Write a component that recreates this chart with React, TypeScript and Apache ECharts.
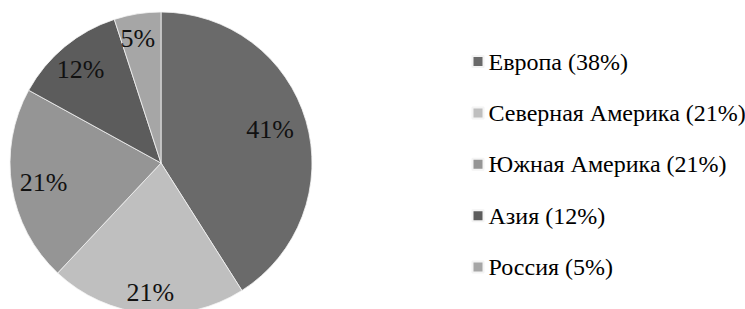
import React, { useEffect, useRef } from "react";
import * as echarts from "echarts";

const categories = ["Европа", "Северная Америка", "Южная Америка", "Азия", "Россия"];
const sliceValues = [41, 21, 21, 12, 5];
const legendPercents = [38, 21, 21, 12, 5];
const sliceColors = ["#6a6a6a", "#bfbfbf", "#959595", "#5c5c5c", "#a6a6a6"];
const labelNudges = [[-9, 1], [1, 7], [4, 0], [-2, 1], [-4, -3]];

export default function App() {
  const ref = useRef<HTMLDivElement>(null);
  useEffect(() => {
    if (!ref.current) return;
    const chart = echarts.init(ref.current, null, { renderer: "svg" });
    const font = "Liberation Serif, Times New Roman, serif";
    const data = categories.map((name, i) => ({
      name,
      value: sliceValues[i],
      itemStyle: { color: sliceColors[i] },
    }));
    chart.setOption({
      animation: false,
      backgroundColor: "#ffffff",
      textStyle: { fontFamily: font },
      legend: {
        orient: "vertical",
        left: 471.5,
        top: 49.5,
        padding: 0,
        itemWidth: 11,
        itemHeight: 11,
        itemGap: 27.4,
        icon: "rect",
        selectedMode: false,
        data: categories,
        formatter: (name: string) => {
          const i = categories.indexOf(name);
          return `${name} (${legendPercents[i]}%)`;
        },
        textStyle: {
          fontFamily: font,
          fontSize: 24,
          lineHeight: 24,
          color: "#000",
        },
      },
      series: [
        {
          type: "pie",
          center: [161, 163],
          radius: [0, 151],
          startAngle: 90,
          clockwise: true,
          silent: true,
          label: { show: false },
          labelLine: { show: false },
          itemStyle: { borderColor: "#f4f4f4", borderWidth: 0.8 },
          data,
        },
        {
          type: "pie",
          center: [161, 163],
          radius: [89, 151],
          startAngle: 90,
          clockwise: true,
          silent: true,
          legendHoverLink: false,
          itemStyle: { color: "rgba(0,0,0,0)" },
          label: {
            show: true,
            position: "inside",
            fontFamily: font,
            fontSize: 26,
            color: "#111",
            formatter: (p: any) => `${p.value}%`,
          },
          labelLayout: (p: any) => ({
            dx: labelNudges[p.dataIndex][0],
            dy: labelNudges[p.dataIndex][1],
          }),
          labelLine: { show: false },
          data: categories.map((name, i) => ({ name, value: sliceValues[i] })),
        },
      ],
    });
    return () => chart.dispose();
  }, []);
  return (
    <div
      ref={ref}
      style={{ position: "absolute", left: 0, top: 0, width: 745, height: 309 }}
    />
  );
}
